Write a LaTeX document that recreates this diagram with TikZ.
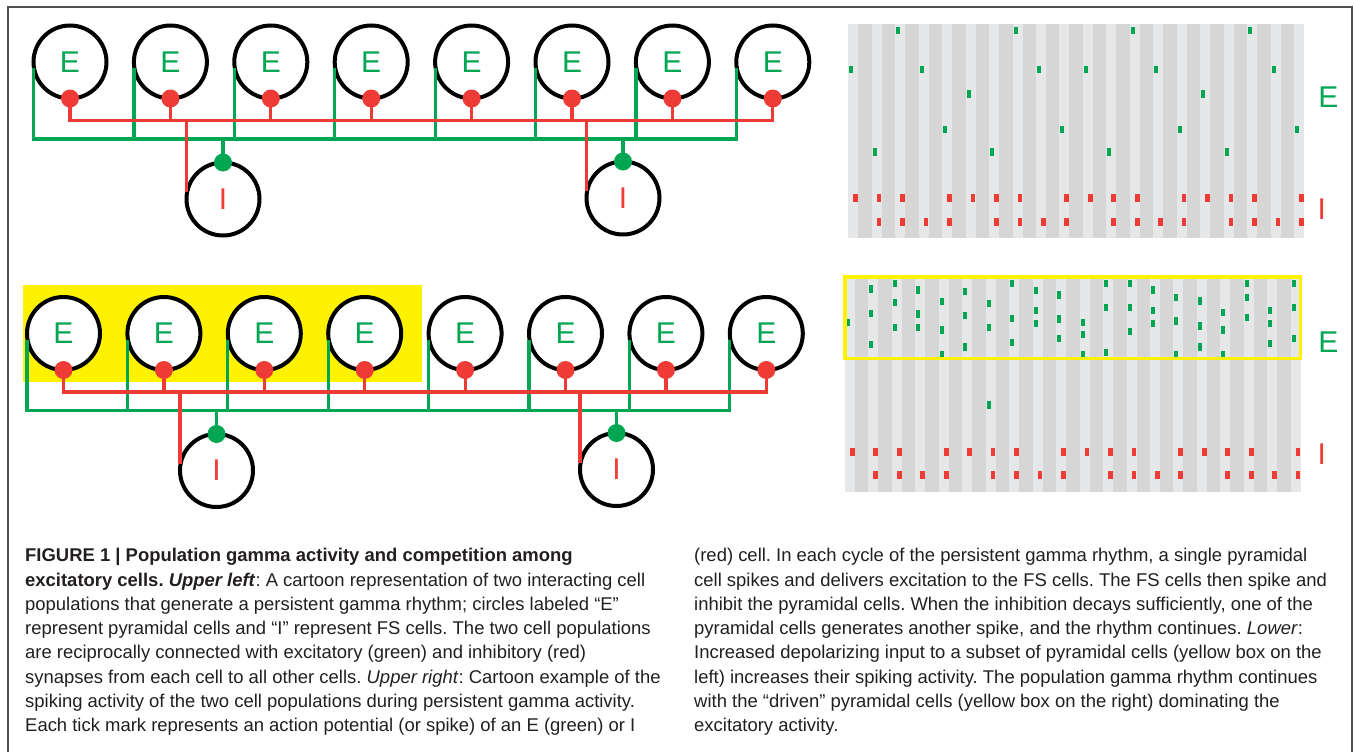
\documentclass[tikz,border=0pt]{standalone}
\usepackage{fontspec}
\setmainfont{Liberation Sans}
\usetikzlibrary{calc}
\definecolor{ngreen}{RGB}{0,166,81}
\definecolor{nred}{RGB}{239,59,54}
\definecolor{nyellow}{RGB}{255,242,0}
\definecolor{glight}{RGB}{230,231,232}
\definecolor{gdark}{RGB}{214,214,214}
\definecolor{captxt}{RGB}{35,31,32}
\definecolor{framec}{RGB}{80,80,80}

\newcommand{\drawnet}[1]{%
  \foreach \i in {1,...,8} \node[ecell] (#1e\i) at ({100.4*(\i-1)},0) {E};
  \node[icell] (#1i1) at (153,137) {I};
  \node[icell] (#1i2) at (553,136) {I};
  \coordinate (#1r) at (0,58.5);
  \coordinate (#1g) at (0,77);
  \foreach \i in {1,...,8} {
    \draw[gline] ($(#1e\i.west)+(0,6)$) -- (#1e\i.west |- #1g);
    \draw[rline] (#1e\i.south) -- (#1e\i.south |- #1r);
  }
  \draw[gline,line cap=rect] (#1e1.west |- #1g) -- (#1e8.west |- #1g);
  \draw[rline,line cap=rect] (#1e1.south |- #1r) -- (#1e8.south |- #1r);
  \foreach \j in {1,2} {
    \draw[rline] ($(#1i\j.west)+(0,-7)$) -- (#1i\j.west |- #1r);
    \draw[gline] (#1i\j.north |- #1g) -- (#1i\j.north);
    \fill[ngreen] (#1i\j.north) circle (9pt);
  }
  \foreach \i in {1,...,8} \fill[nred] (#1e\i.south) circle (9pt);
}
\newcommand{\stripes}[2]{%
  \fill[gdark] (0,#1) rectangle (455.7,#2);
  \foreach \k in {0,...,19} \fill[glight] ({23.46*\k},#1) rectangle ({23.46*\k+10},#2);
}
\newcommand{\spkE}[2]{\fill[ngreen] ({23.46*#1+1},{#2-3.65}) rectangle ++(4,7.3);}
\newcommand{\spkI}[2]{\fill[nred] ({23.46*#1+5},{#2-4}) rectangle ++(4.7,8);}

\begin{document}
\frenchspacing
\begin{tikzpicture}[x=1pt,y=-1pt,
  cell/.style={circle,draw=black,line width=4pt,fill=white,minimum size=73pt,
    inner sep=0pt,outer sep=0pt,font=\fontsize{30}{30}\selectfont},
  ecell/.style={cell,text=ngreen},
  icell/.style={cell,text=nred},
  gline/.style={draw=ngreen,line width=3.2pt},
  rline/.style={draw=nred,line width=3.2pt},
  biglabel/.style={inner sep=0pt,font=\fontsize{30}{30}\selectfont},
  captline/.style={anchor=base west,inner sep=0pt,text=captxt,
    font=\fontsize{18.45}{24}\selectfont\frenchspacing}]
\useasboundingbox (0,0) rectangle (1354,752);
\fill[white] (0,0) rectangle (1354,752);
\draw[framec,line width=1.2pt] (8,752) -- (8,7) -- (1352,7) -- (1352,752);

% yellow highlight (lower left)
\fill[nyellow] (22.7,285) rectangle (421.7,381.7);

% networks
\begin{scope}[shift={(70,62)}]
  \drawnet{u}
\end{scope}
\begin{scope}[shift={(63.5,333.5)}]
  \drawnet{l}
\end{scope}

% upper raster
\begin{scope}[shift={(848.3,0)}]
  \stripes{24.3}{238}
  \foreach \k/\y in {0/69.5,1/152,2/30.7,3/69.5,4/129.7,5/94,6/152,7/30.7,8/69.5,9/129.7,
      10/69.5,11/152,12/30.7,13/69.5,14/129.7,15/94,16/152,17/30.7,18/69.5,19/129.7}
    {\spkE{\k}{\y}}
  \foreach \k in {0,1,2,4,5,6,7,9,10,11,12,14,15,16,17,19} {\spkI{\k}{198}}
  \foreach \k in {1,2,3,4,6,7,8,9,11,12,13,14,16,17,18,19} {\spkI{\k}{221.7}}
\end{scope}
\node[biglabel,text=ngreen] (uE) at (1328.3,96.7) {E};
\node[biglabel,text=nred] (uI) at (1321.7,209.3) {I};

% lower raster
\begin{scope}[shift={(845,0)}]
  \stripes{277}{491.7}
  \foreach \k/\y in {0/322.3,1/289,1/313.3,1/344.3,2/283.3,2/302.7,2/327.3,3/290,3/314,3/327.3,
      4/301.7,4/330,4/354.3,5/291.7,5/315.7,5/347,6/303.3,6/327.3,6/405,7/283.3,7/318.3,7/342.7,
      8/290.7,8/310.7,8/323.3,9/295,9/319,9/338.3,10/322.3,10/334.3,10/354.3,11/283.3,11/307.7,
      11/352.3,12/283.3,12/307.7,12/331.7,13/290,13/310.7,13/323.3,14/297.7,14/321,14/354.3,
      15/301,15/326,15/347,16/312.3,16/330,16/354.3,17/283.3,17/297.7,17/317.7,18/310.7,
      18/323.3,18/343.3,19/283.3,19/307.7,19/338.3}
    {\spkE{\k}{\y}}
  \foreach \k in {0,1,2,4,5,6,7,9,10,11,12,14,15,16,17,19} {\spkI{\k}{451.7}}
  \foreach \k in {1,2,3,4,6,7,8,9,11,12,13,14,16,17,18,19} {\spkI{\k}{475}}
  \draw[nyellow,line width=3.5pt] (0,277) rectangle (455.7,358.5);
\end{scope}
\node[biglabel,text=ngreen] (lE) at (1328.3,341.7) {E};
\node[biglabel,text=nred] (lI) at (1321.7,454.3) {I};

% caption, left column
\node[captline] (c1) at (25,561.7) {\textbf{FIGURE 1 | Population gamma activity and competition among}};
\node[captline] (c2) at (25,586) {\textbf{excitatory cells. \textit{Upper left}}: A cartoon representation of two interacting cell};
\node[captline] (c3) at (25,610.3) {populations that generate a persistent gamma rhythm; circles labeled “E”};
\node[captline] (c4) at (25,634.6) {represent pyramidal cells and “I” represent FS cells. The two cell populations};
\node[captline] (c5) at (25,658.9) {are reciprocally connected with excitatory (green) and inhibitory (red)};
\node[captline] (c6) at (25,683.2) {synapses from each cell to all other cells. \textit{Upper right}: Cartoon example of the};
\node[captline] (c7) at (25,707.5) {spiking activity of the two cell populations during persistent gamma activity.};
\node[captline] (c8) at (25,731.8) {Each tick mark represents an action potential (or spike) of an E (green) or I};
% caption, right column
\node[captline] (d1) at (694,561.7) {(red) cell. In each cycle of the persistent gamma rhythm, a single pyramidal};
\node[captline] (d2) at (694,586) {cell spikes and delivers excitation to the FS cells. The FS cells then spike and};
\node[captline] (d3) at (694,610.3) {inhibit the pyramidal cells. When the inhibition decays sufficiently, one of the};
\node[captline] (d4) at (694,634.6) {pyramidal cells generates another spike, and the rhythm continues. \textit{Lower}:};
\node[captline] (d5) at (694,658.9) {Increased depolarizing input to a subset of pyramidal cells (yellow box on the};
\node[captline] (d6) at (694,683.2) {left) increases their spiking activity. The population gamma rhythm continues};
\node[captline] (d7) at (694,707.5) {with the “driven” pyramidal cells (yellow box on the right) dominating the};
\node[captline] (d8) at (694,731.8) {excitatory activity.};
\end{tikzpicture}
\end{document}
